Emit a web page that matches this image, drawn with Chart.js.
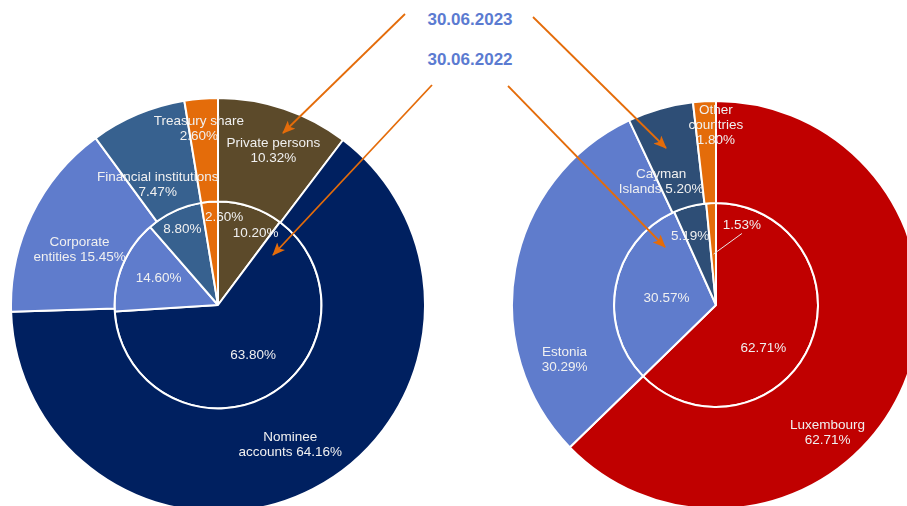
<!DOCTYPE html>
<html>
<head>
<meta charset="utf-8">
<script src="https://cdn.jsdelivr.net/npm/chart.js@4.4.0/dist/chart.umd.min.js"></script>
<style>
  html, body { margin:0; padding:0; width:907px; height:506px; overflow:hidden; background:#ffffff; }
  body { position:relative; font-family:"Liberation Sans", Arial, sans-serif; }
  canvas { position:absolute; }
  #c1 { left:10px; top:97px; }
  #c2 { left:511px; top:100px; }
  .ttl { position:absolute; left:370px; width:200px; text-align:center; font-weight:bold; font-size:17px; line-height:20px; color:#5b7bd1; }
  svg { position:absolute; left:0; top:0; }
</style>
</head>
<body>
<canvas id="c1" width="416" height="416"></canvas>
<canvas id="c2" width="410" height="410"></canvas>
<div class="ttl" style="top:10px">30.06.2023</div>
<div class="ttl" style="top:50px">30.06.2022</div>
<svg width="907" height="506">
  <defs>
    <marker id="ah" markerWidth="13" markerHeight="11" refX="12" refY="5.5" orient="auto" markerUnits="userSpaceOnUse">
      <path d="M0,0 L13,5.5 L0,11 L3,5.5 z" fill="#e46c0a"/>
    </marker>
  </defs>
  <g stroke="#e46c0a" stroke-width="1.8" marker-end="url(#ah)">
    <line x1="405" y1="14" x2="283" y2="133"/>
    <line x1="533" y1="17" x2="666" y2="148"/>
    <line x1="432" y1="85" x2="273" y2="255"/>
    <line x1="508" y1="86" x2="665" y2="247"/>
  </g>
</svg>
<script>
// ---- Data ----
const shareholderCategories = ['Private persons', 'Nominee accounts', 'Corporate entities', 'Financial institutions', 'Treasury share'];
const shareholders2023 = [10.32, 64.16, 15.45, 7.47, 2.60];
const shareholders2022 = [10.20, 63.80, 14.60, 8.80, 2.60];

const countryCategories = ['Luxembourg', 'Estonia', 'Cayman Islands', 'Other countries'];
const countries2023 = [62.71, 30.29, 5.20, 1.80];
const countries2022 = [62.71, 30.57, 5.19, 1.53];

// ---- Styles ----
const shareholderColors = ['#5c4a2a', '#002060', '#5f7ccc', '#37618f', '#e46c0a'];
const countryColors = ['#c00000', '#5f7ccc', '#2e4e76', '#e46c0a'];

// label placement: [angle shift from slice middle (deg), radius as fraction of ring outer radius]
const leftOuterPlace = [[1.2, 0.79], [0, 0.76], [-4.2, 0.72], [-3.8, 0.65], [-1.5, 0.855]];
const leftInnerPlace = [[9.4, 0.78], [-6.6, 0.59], [1.9, 0.63], [0, 0.81], [8.6, 0.85]];
const leftOuterWrap = [[2, 1], [1, 2], [1, 2], [2, 1], [2, 1]];
const rightOuterPlace = [[25.9, 0.83], [-30.3, 0.79], [-8.2, 0.66], [3.2, 0.88]];
const rightInnerPlace = [[19.6, 0.63], [-2.8, 0.49], [-5.8, 0.72], [20.8, 0.82]];
const rightOuterWrap = [[1, 1], [1, 1], [1, 2], [1, 1, 1]];

const pct = v => v.toFixed(2) + '%';

function wrapWords(text, counts) {
  const words = text.split(' ');
  const lines = [];
  let k = 0;
  counts.forEach(c => { lines.push(words.slice(k, k + c).join(' ')); k += c; });
  return lines;
}

const sliceLabels = {
  id: 'sliceLabels',
  afterDatasetsDraw(chart, args, opts) {
    const ctx = chart.ctx;
    ctx.save();
    ctx.font = '13.5px "Liberation Sans", Arial, sans-serif';
    ctx.fillStyle = '#f0f0f0';
    ctx.strokeStyle = '#e8e8e8';
    ctx.textAlign = 'center';
    ctx.textBaseline = 'middle';
    opts.rings.forEach((ring, di) => {
      const meta = chart.getDatasetMeta(di);
      meta.data.forEach((arc, i) => {
        const p = ring.place[i];
        const midRaw = (arc.startAngle + arc.endAngle) / 2;
        const mid = midRaw + p[0] * Math.PI / 180;
        const r = p[1] * arc.outerRadius;
        const x = arc.x + r * Math.cos(mid);
        const y = arc.y + r * Math.sin(mid);
        const lines = ring.lines(i);
        lines.forEach((ln, k) => ctx.fillText(ln, x, y + (k - (lines.length - 1) / 2) * 15));
        if (ring.leader === i) {
          const r0 = 0.5 * arc.outerRadius;
          ctx.lineWidth = 1;
          ctx.beginPath();
          ctx.moveTo(arc.x + r0 * Math.cos(midRaw), arc.y + r0 * Math.sin(midRaw));
          ctx.lineTo(x, y + 8);
          ctx.stroke();
        }
      });
    });
    ctx.restore();
  }
};

function makeChart(id, cats, v23, v22, colors, rings) {
  return new Chart(document.getElementById(id), {
    type: 'doughnut',
    data: {
      labels: cats,
      datasets: [
        { data: v23, backgroundColor: colors, borderColor: '#ffffff', borderWidth: 2 },
        { data: v22, backgroundColor: colors, borderColor: '#ffffff', borderWidth: 2 }
      ]
    },
    options: {
      responsive: false,
      animation: false,
      cutout: 0,
      layout: { padding: 0 },
      events: [],
      plugins: {
        legend: { display: false },
        tooltip: { enabled: false },
        sliceLabels: { rings: rings }
      }
    },
    plugins: [sliceLabels]
  });
}

makeChart('c1', shareholderCategories, shareholders2023, shareholders2022, shareholderColors, [
  { place: leftOuterPlace, lines: i => wrapWords(shareholderCategories[i] + ' ' + pct(shareholders2023[i]), leftOuterWrap[i]) },
  { place: leftInnerPlace, lines: i => [pct(shareholders2022[i])] }
]);

makeChart('c2', countryCategories, countries2023, countries2022, countryColors, [
  { place: rightOuterPlace, lines: i => wrapWords(countryCategories[i] + ' ' + pct(countries2023[i]), rightOuterWrap[i]) },
  { place: rightInnerPlace, lines: i => [pct(countries2022[i])], leader: 3 }
]);
</script>
</body>
</html>
